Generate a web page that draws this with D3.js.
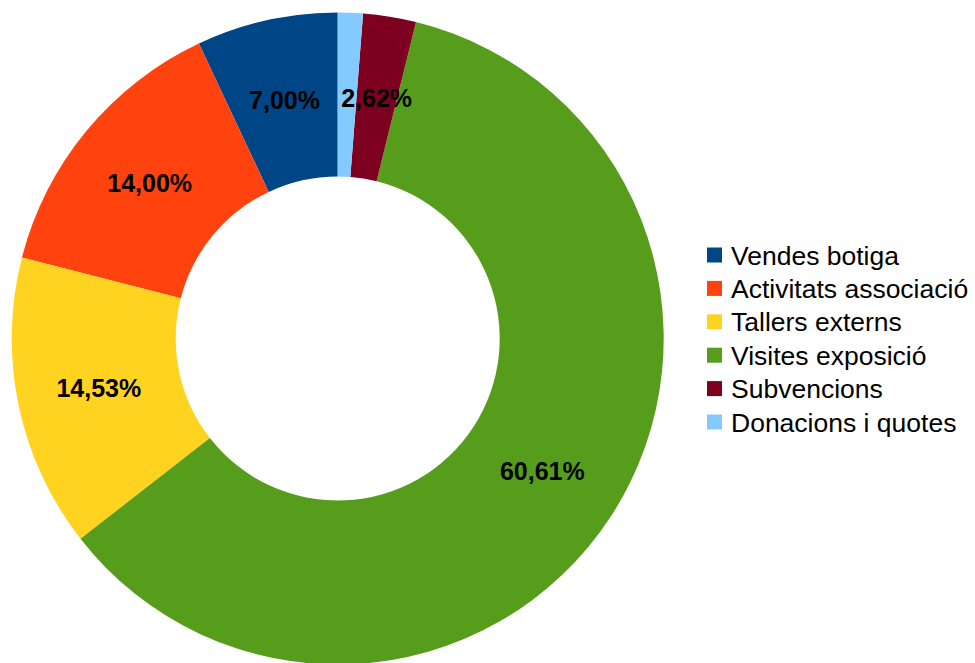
<!DOCTYPE html>
<html>
<head>
<meta charset="utf-8">
<script src="https://cdn.jsdelivr.net/npm/d3@7"></script>
<style>
  html, body { margin: 0; padding: 0; background: #ffffff; }
  svg { display: block; }
</style>
</head>
<body>
<svg id="chart" width="975" height="663"></svg>
<script>
const categories = ["Vendes botiga", "Activitats associació", "Tallers externs", "Visites exposició", "Subvencions", "Donacions i quotes"];
const values = [7.00, 14.00, 14.53, 60.61, 2.62, 1.24];
const colors = ["#004586", "#ff420e", "#ffd320", "#579d1c", "#7e0021", "#83caff"];
const showLabel = [true, true, true, true, true, false];

const svg = d3.select("#chart");
const cx = 337.7, cy = 338.5, outerR = 326, innerR = 162;

const total = d3.sum(values);
const pie = d3.pie().sort(null).startAngle(0).endAngle(-2 * Math.PI);
const arcs = pie(values);
const arc = d3.arc().innerRadius(innerR).outerRadius(outerR);
const labelArc = d3.arc().innerRadius((innerR + outerR) / 2).outerRadius((innerR + outerR) / 2);

const g = svg.append("g").attr("transform", `translate(${cx},${cy})`);
g.selectAll("path.slice").data(arcs).join("path")
  .attr("class", "slice")
  .attr("d", arc)
  .attr("fill", (d, i) => colors[i]);

const fmt = v => (v / total * 100).toFixed(2).replace(".", ",") + "%";
g.selectAll("text.lbl").data(arcs.filter((d, i) => showLabel[i])).join("text")
  .attr("class", "lbl")
  .attr("transform", d => `translate(${labelArc.centroid(d)})`)
  .attr("text-anchor", "middle")
  .attr("dy", "0.36em")
  .attr("font-family", "'Liberation Sans', Arial, sans-serif")
  .attr("font-weight", "bold")
  .attr("font-size", 25)
  .attr("fill", "#000")
  .text(d => fmt(d.value));

const legend = svg.append("g").attr("transform", "translate(707,255)");
const rowH = 33.4;
const items = legend.selectAll("g").data(categories).join("g")
  .attr("transform", (d, i) => `translate(0,${i * rowH})`);
items.append("rect")
  .attr("x", 0).attr("y", -7.5).attr("width", 15).attr("height", 15)
  .attr("fill", (d, i) => colors[i]);
items.append("text")
  .attr("x", 24).attr("dy", "0.36em")
  .attr("font-family", "'Liberation Sans', Arial, sans-serif")
  .attr("font-size", 26.5)
  .attr("fill", "#000")
  .text(d => d);
</script>
</body>
</html>
